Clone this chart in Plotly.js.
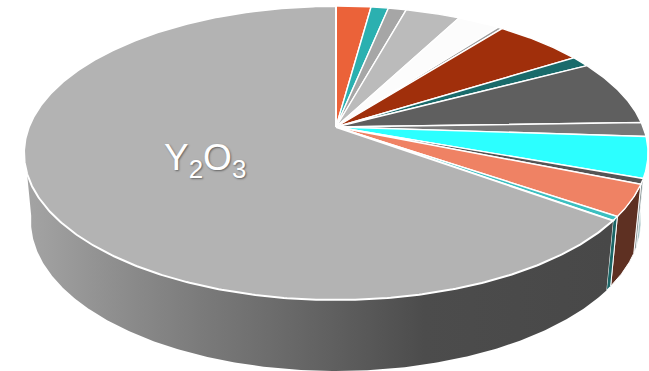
<!DOCTYPE html>
<html>
<head>
<meta charset="utf-8">
<script src="https://cdn.plot.ly/plotly-3.0.1.min.js"></script>
<style>html,body{margin:0;padding:0;background:#fff}#chart{width:649px;height:371px}</style>
</head>
<body>
<div id="chart"></div>
<script>
// Share of each oxide, percent, clockwise from twelve o'clock.
const sliceValues = [2.14, 1.07, 1.10, 3.36, 2.61, 0.28, 5.53, 1.19, 7.22, 1.55, 4.47, 0.61, 3.44, 0.45, 64.98];
const sliceColors = ['#EB6239', '#2BB0B0', '#A6A6A6', '#BBBBBB', '#FCFCFC', '#999999', '#A02F0B', '#196B6B',
                     '#5F5F5F', '#787878', '#2CFFFF', '#555555', '#EF8264', '#3BBFC0', '#B3B3B3'];
const wallColors = ['', '', '', '', '', '', '', '', '', '', '#A9C4C6', '#7F8C8E', '#5E3022', '#1C6666', ''];
const labelText = 'Y<sub>2</sub>O<sub>3</sub>';

// Tilted disc: a perspective projection of a circle onto an ellipse.
const cx = 336;
const topFace = {cy: 153, rx: 312, ry: 147, lift: 26};
const baseFace = {cy: 221, rx: 305, ry: 150, lift: 26};

function project(face, deg) {
  const a = deg * Math.PI / 180, X = Math.sin(a), Y = Math.cos(a);
  const k = face.lift / face.ry, w = 1 + k * Y;
  return [cx + face.rx * Math.sqrt(1 - k * k) * X / w, face.cy - (face.ry * Y + face.lift) / w];
}
function arc(face, from, to) {
  const n = Math.max(2, Math.ceil(Math.abs(to - from) * 2)), pts = [];
  for (let i = 0; i <= n; i++) pts.push(project(face, from + (to - from) * i / n));
  return pts;
}
function poly(pts, fill, width, extra) {
  return Object.assign({
    type: 'scatter', mode: 'lines', x: pts.map(p => p[0]), y: pts.map(p => p[1]),
    fill: 'toself', fillcolor: fill, line: {color: '#FFFFFF', width: width}, hoverinfo: 'skip', showlegend: false
  }, extra || {});
}

const total = sliceValues.reduce((s, v) => s + v, 0);
const edges = [0];
sliceValues.forEach(v => edges.push(edges[edges.length - 1] + v / total * 360));

const traces = [];

// Side walls, back to front, only where a slice faces the viewer.
for (let i = 10; i <= 13; i++) {
  const pts = arc(topFace, edges[i], edges[i + 1]).concat(arc(baseFace, edges[i + 1], edges[i]));
  pts.push(pts[0]);
  traces.push(poly(pts, wallColors[i], i < 12 ? 0.7 : 1));
}
const mainFrom = edges[14], wallTopEnd = 252, wallBaseEnd = 262;
const mainWall = arc(topFace, mainFrom, wallTopEnd).concat(arc(baseFace, wallBaseEnd, mainFrom));
mainWall.push(mainWall[0]);
traces.push(poly(mainWall, '#808080', 0, {
  line: {width: 0},
  fillgradient: {
    type: 'horizontal', start: 30, stop: 610,
    colorscale: [[0, '#A3A3A3'], [0.17, '#8B8B8B'], [0.3, '#7A7A7A'], [0.47, '#666666'], [0.68, '#4C4C4C'], [1, '#484848']]
  }
}));

// Top face.
sliceValues.forEach((v, i) => {
  const apex = [cx, topFace.cy - topFace.lift];
  const pts = [apex].concat(arc(topFace, edges[i], edges[i + 1]));
  pts.push(apex);
  traces.push(poly(pts, sliceColors[i], i === 14 ? 2 : 1.4));
});

const layout = {
  width: 649, height: 371,
  margin: {l: 0, r: 0, t: 0, b: 0},
  paper_bgcolor: '#FFFFFF', plot_bgcolor: '#FFFFFF',
  xaxis: {range: [0, 649], visible: false, fixedrange: true},
  yaxis: {range: [371, 0], visible: false, fixedrange: true},
  showlegend: false,
  annotations: [{
    x: 205, y: 160, xref: 'x', yref: 'y', showarrow: false, text: labelText,
    font: {family: 'Liberation Sans, Arial, sans-serif', size: 37, color: '#FFFFFF', shadow: '1px 1px 2px rgba(0,0,0,0.45)'}
  }]
};
Plotly.newPlot('chart', traces, layout, {staticPlot: true, displayModeBar: false});
</script>
</body>
</html>
